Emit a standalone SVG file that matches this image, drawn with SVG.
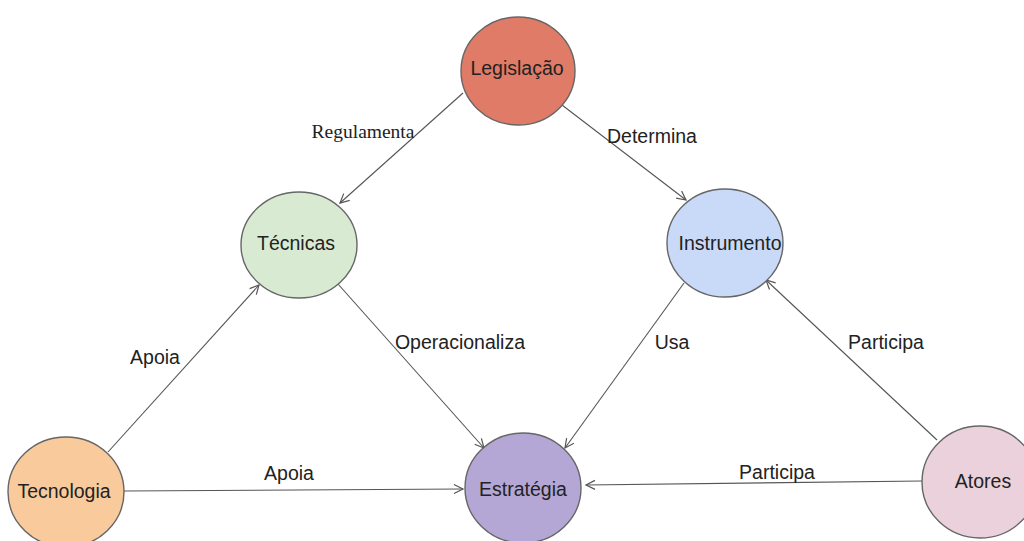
<svg xmlns="http://www.w3.org/2000/svg" width="1024" height="541" viewBox="0 0 1024 541">
<style>
.n{stroke:#666;stroke-width:1.4}
.t{font-family:"Liberation Sans",Arial,sans-serif;font-size:19.5px;fill:#222;text-anchor:middle;dominant-baseline:central}
.e{stroke:#555;stroke-width:1.1;fill:none;marker-end:url(#a)}
</style>
<defs>
<marker id="a" markerWidth="12" markerHeight="12" refX="10" refY="5" orient="auto" markerUnits="userSpaceOnUse" viewBox="0 0 12 10">
<path d="M1,0.5 L10,5 L1,9.5" fill="none" stroke="#555" stroke-width="1.2"/>
</marker>
</defs>
<rect width="1024" height="541" fill="#fff"/>
<g id="connectors">
<line class="e" x1="463" y1="93" x2="340" y2="203"/>
<line class="e" x1="562" y1="105" x2="686" y2="200"/>
<line class="e" x1="338" y1="284" x2="484" y2="448"/>
<line class="e" x1="684" y1="283" x2="565" y2="448"/>
<line class="e" x1="108" y1="452" x2="259" y2="285"/>
<line class="e" x1="124" y1="491" x2="463" y2="489"/>
<line class="e" x1="937" y1="440" x2="766" y2="280"/>
<line class="e" x1="922" y1="481" x2="586" y2="485"/>
<text x="363" y="131" style="font-family:'Liberation Serif','Times New Roman',serif;font-size:19.5px;fill:#222;text-anchor:middle;dominant-baseline:central">Regulamenta</text>
<text class="t" x="652" y="136">Determina</text>
<text class="t" x="155" y="357">Apoia</text>
<text class="t" x="460" y="342">Operacionaliza</text>
<text class="t" x="672" y="342">Usa</text>
<text class="t" x="886" y="342">Participa</text>
<text class="t" x="289" y="473">Apoia</text>
<text class="t" x="777" y="472">Participa</text>
</g>
<g id="legislacao"><ellipse class="n" cx="518" cy="71" rx="57" ry="54" fill="#e07b67"/><text class="t" x="517" y="68">Legislação</text></g>
<g id="tecnicas"><ellipse class="n" cx="299" cy="245" rx="58" ry="53" fill="#d9ead3"/><text class="t" x="296" y="243">Técnicas</text></g>
<g id="instrumento"><ellipse class="n" cx="725" cy="243" rx="58" ry="54" fill="#c9daf8"/><text class="t" x="730" y="243">Instrumento</text></g>
<g id="tecnologia"><ellipse class="n" cx="66" cy="492" rx="58" ry="55" fill="#f9cb9c"/><text class="t" x="64" y="491">Tecnologia</text></g>
<g id="estrategia"><ellipse class="n" cx="523" cy="488" rx="58" ry="55" fill="#b4a7d6"/><text class="t" x="523" y="489">Estratégia</text></g>
<g id="atores"><ellipse class="n" cx="980" cy="482" rx="58" ry="56" fill="#ead1dc"/><text class="t" x="983" y="481">Atores</text></g>
</svg>
